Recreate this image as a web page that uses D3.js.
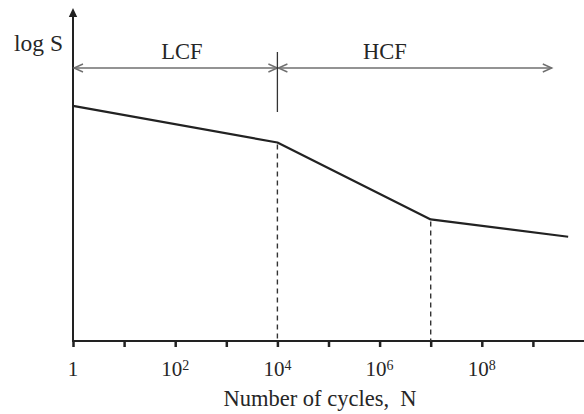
<!DOCTYPE html>
<html>
<head>
<meta charset="utf-8">
<script src="https://cdn.jsdelivr.net/npm/d3@7/dist/d3.min.js"></script>
<style>
  html, body { margin: 0; padding: 0; background: #fff; }
  svg { display: block; }
  text { font-family: "Liberation Serif", "Times New Roman", serif; fill: #262626; }
</style>
</head>
<body>
<svg id="chart" width="584" height="414"></svg>
<script>
// S–N curve: number of cycles (log) vs. log of stress amplitude
const cycles = [1, 1e4, 1e7, Math.pow(10, 9.69)];
const logS = [7.06, 5.96, 3.65, 3.13];
const kneeCycles = [1e4, 1e7];

// decade ticks and their labels
const tickValues = d3.range(0, 10).map(e => Math.pow(10, e));
const tickLabels = [
  { base: "1", exp: "" },
  null,
  { base: "10", exp: "2" },
  null,
  { base: "10", exp: "4" },
  null,
  { base: "10", exp: "6" },
  null,
  { base: "10", exp: "8" },
  null
];

// fatigue regimes
const regimes = [
  { name: "LCF", from: 1, to: 1e4 },
  { name: "HCF", from: 1e4, to: Math.pow(10, 9.37) }
];

const svg = d3.select("#chart");
const ink = "#222";

const x = d3.scaleLog().domain([1, 1e10]).range([73, 584]);
const y = d3.scaleLinear().domain([0, 10]).range([341, 8]);
const x0 = x(1);
const yAxisY = y(0);

// x axis line
svg.append("line")
  .attr("x1", x0).attr("x2", 584)
  .attr("y1", yAxisY).attr("y2", yAxisY)
  .attr("stroke", ink).attr("stroke-width", 2);

// x ticks through d3 axis
const xAxis = d3.axisBottom(x)
  .tickValues(tickValues)
  .tickSize(6)
  .tickFormat("");
const gx = svg.append("g")
  .attr("transform", `translate(0,${yAxisY})`)
  .call(xAxis);
gx.select(".domain").remove();
gx.selectAll(".tick line").attr("stroke", ink).attr("stroke-width", 2.5);

// tick labels with superscripts
tickValues.forEach((v, i) => {
  const lab = tickLabels[i];
  if (!lab) return;
  const t = svg.append("text")
    .attr("x", x(v))
    .attr("y", 376)
    .attr("text-anchor", "middle")
    .style("font-size", "21px");
  t.append("tspan").text(lab.base);
  if (lab.exp) {
    t.append("tspan")
      .attr("dy", -6)
      .style("font-size", "14px")
      .text(lab.exp);
  }
});

// x axis title
svg.append("text")
  .attr("x", 320)
  .attr("y", 406)
  .attr("text-anchor", "middle")
  .style("font-size", "22.5px")
  .text("Number of cycles,\u00a0\u00a0N");

// y axis with arrow
svg.append("line")
  .attr("x1", x0).attr("x2", x0)
  .attr("y1", yAxisY + 1).attr("y2", 14)
  .attr("stroke", ink).attr("stroke-width", 2);
svg.append("path")
  .attr("d", `M${x0},8 L${x0 - 4.2},17 L${x0 + 4.2},17 Z`)
  .attr("fill", ink);

svg.append("text")
  .attr("x", 14)
  .attr("y", 51)
  .style("font-size", "23.5px")
  .text("log S");

// regime arrows
const arrowY = 68;
const arrowGray = "#6f6f6f";
function chevron(tipX, dir) {
  // dir = -1 points left, +1 points right
  const len = 9, half = 4;
  svg.append("path")
    .attr("d", `M${tipX - dir * len},${arrowY - half} L${tipX},${arrowY} L${tipX - dir * len},${arrowY + half}`)
    .attr("fill", "none")
    .attr("stroke", arrowGray)
    .attr("stroke-width", 1.4);
}
regimes.forEach(r => {
  const a = x(r.from) + 1, b = x(r.to);
  svg.append("line")
    .attr("x1", a).attr("x2", b)
    .attr("y1", arrowY).attr("y2", arrowY)
    .attr("stroke", arrowGray).attr("stroke-width", 1.6);
  chevron(a, -1);
  chevron(b, 1);
});

// separator between LCF and HCF
svg.append("line")
  .attr("x1", x(1e4)).attr("x2", x(1e4))
  .attr("y1", 52).attr("y2", 112)
  .attr("stroke", "#333").attr("stroke-width", 1.3);

// regime names
const regimeLabelX = { LCF: 182, HCF: 385 };
regimes.forEach(r => {
  svg.append("text")
    .attr("x", regimeLabelX[r.name])
    .attr("y", 59)
    .attr("text-anchor", "middle")
    .style("font-size", "22.5px")
    .text(r.name);
});

// dashed drop lines at the knees
kneeCycles.forEach(n => {
  const i = cycles.indexOf(n);
  svg.append("line")
    .attr("x1", x(n)).attr("x2", x(n))
    .attr("y1", y(logS[i]) + 2).attr("y2", yAxisY)
    .attr("stroke", "#333")
    .attr("stroke-width", 1.4)
    .attr("stroke-dasharray", "5,4");
});

// S–N curve
const line = d3.line()
  .x((d, i) => x(cycles[i]))
  .y(d => y(d));
svg.append("path")
  .datum(logS)
  .attr("d", line)
  .attr("fill", "none")
  .attr("stroke", ink)
  .attr("stroke-width", 2.2)
  .attr("stroke-linejoin", "round");
</script>
</body>
</html>
